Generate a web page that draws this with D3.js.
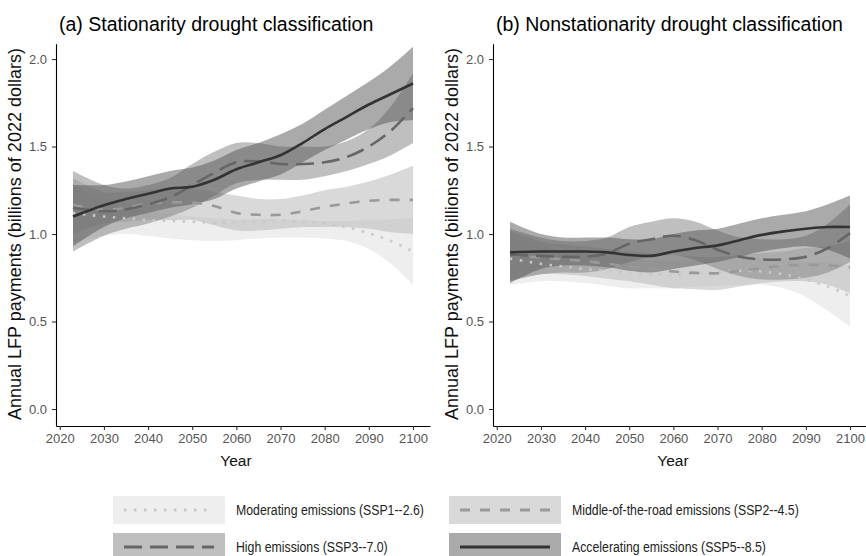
<!DOCTYPE html>
<html>
<head>
<meta charset="utf-8">
<script src="https://cdn.jsdelivr.net/npm/d3@7"></script>
<style>
  body { margin: 0; background: #fff; }
  svg { display: block; font-family: "Liberation Sans", Arial, sans-serif; }
</style>
</head>
<body>
<div id="chart"></div>
<script>
// Years sampled from the smoothed curves
const years = [2023, 2030, 2035, 2040, 2045, 2050, 2055, 2060, 2065, 2070, 2075, 2080, 2085, 2090, 2095, 2100];

const scenarios = ['SSP1', 'SSP2', 'SSP3', 'SSP5'];
const scenarioLabels = [
  'Moderating emissions (SSP1--2.6)',
  'Middle-of-the-road emissions (SSP2--4.5)',
  'High emissions (SSP3--7.0)',
  'Accelerating emissions (SSP5--8.5)'
];

// (a) Stationarity: fitted value, lower and upper band
const statSSP1 = [1.12, 1.10, 1.09, 1.08, 1.075, 1.07, 1.065, 1.065, 1.07, 1.075, 1.07, 1.06, 1.04, 1.005, 0.96, 0.90];
const statSSP1Lo = [0.95, 0.99, 1.00, 0.99, 0.975, 0.965, 0.96, 0.965, 0.975, 0.98, 0.98, 0.975, 0.96, 0.915, 0.83, 0.71];
const statSSP1Hi = [1.28, 1.20, 1.16, 1.13, 1.115, 1.10, 1.09, 1.085, 1.085, 1.085, 1.08, 1.075, 1.075, 1.08, 1.085, 1.09];

const statSSP2 = [1.165, 1.14, 1.15, 1.175, 1.18, 1.18, 1.16, 1.12, 1.11, 1.11, 1.13, 1.155, 1.175, 1.19, 1.195, 1.195];
const statSSP2Lo = [1.00, 1.06, 1.07, 1.08, 1.08, 1.08, 1.05, 1.02, 1.02, 1.03, 1.04, 1.04, 1.04, 1.03, 1.01, 1.00];
const statSSP2Hi = [1.32, 1.24, 1.24, 1.25, 1.26, 1.26, 1.24, 1.22, 1.20, 1.20, 1.22, 1.25, 1.27, 1.30, 1.34, 1.39];

const statSSP3 = [1.15, 1.13, 1.14, 1.17, 1.21, 1.28, 1.35, 1.41, 1.415, 1.40, 1.40, 1.41, 1.44, 1.50, 1.59, 1.72];
const statSSP3Lo = [0.90, 0.99, 1.03, 1.06, 1.10, 1.15, 1.22, 1.29, 1.31, 1.31, 1.31, 1.33, 1.36, 1.40, 1.45, 1.52];
const statSSP3Hi = [1.36, 1.28, 1.26, 1.28, 1.32, 1.40, 1.47, 1.52, 1.52, 1.50, 1.50, 1.50, 1.53, 1.60, 1.73, 1.92];

const statSSP5 = [1.10, 1.165, 1.20, 1.23, 1.26, 1.27, 1.31, 1.37, 1.41, 1.45, 1.52, 1.60, 1.67, 1.74, 1.80, 1.86];
const statSSP5Lo = [0.93, 1.04, 1.09, 1.12, 1.15, 1.17, 1.20, 1.26, 1.30, 1.34, 1.41, 1.48, 1.54, 1.60, 1.64, 1.65];
const statSSP5Hi = [1.28, 1.28, 1.30, 1.33, 1.36, 1.38, 1.42, 1.48, 1.52, 1.57, 1.63, 1.71, 1.79, 1.87, 1.96, 2.07];

// (b) Nonstationarity
const nonSSP1 = [0.86, 0.83, 0.815, 0.80, 0.79, 0.776, 0.77, 0.767, 0.775, 0.785, 0.79, 0.786, 0.77, 0.74, 0.70, 0.645];
const nonSSP1Lo = [0.71, 0.73, 0.73, 0.72, 0.705, 0.69, 0.69, 0.69, 0.70, 0.705, 0.71, 0.71, 0.69, 0.64, 0.56, 0.47];
const nonSSP1Hi = [1.01, 0.93, 0.90, 0.88, 0.87, 0.86, 0.85, 0.845, 0.85, 0.865, 0.87, 0.86, 0.85, 0.84, 0.84, 0.82];

const nonSSP2 = [0.88, 0.865, 0.855, 0.845, 0.83, 0.815, 0.80, 0.786, 0.778, 0.776, 0.79, 0.805, 0.818, 0.824, 0.82, 0.81];
const nonSSP2Lo = [0.74, 0.77, 0.77, 0.76, 0.745, 0.73, 0.71, 0.69, 0.685, 0.68, 0.70, 0.72, 0.73, 0.73, 0.71, 0.66];
const nonSSP2Hi = [1.02, 0.96, 0.94, 0.93, 0.915, 0.90, 0.89, 0.88, 0.87, 0.87, 0.88, 0.89, 0.90, 0.92, 0.93, 0.96];

const nonSSP3 = [0.88, 0.875, 0.87, 0.87, 0.89, 0.945, 0.97, 0.99, 0.965, 0.91, 0.87, 0.855, 0.855, 0.87, 0.92, 1.005];
const nonSSP3Lo = [0.73, 0.77, 0.78, 0.78, 0.80, 0.84, 0.87, 0.88, 0.85, 0.80, 0.76, 0.74, 0.74, 0.75, 0.78, 0.84];
const nonSSP3Hi = [1.03, 0.98, 0.96, 0.96, 0.98, 1.04, 1.07, 1.09, 1.07, 1.02, 0.98, 0.97, 0.97, 0.99, 1.06, 1.17];

const nonSSP5 = [0.895, 0.90, 0.90, 0.90, 0.895, 0.88, 0.875, 0.90, 0.92, 0.935, 0.965, 0.995, 1.015, 1.03, 1.04, 1.04];
const nonSSP5Lo = [0.72, 0.80, 0.82, 0.82, 0.81, 0.79, 0.78, 0.80, 0.82, 0.84, 0.87, 0.90, 0.92, 0.93, 0.91, 0.86];
const nonSSP5Hi = [1.07, 1.00, 0.98, 0.98, 0.98, 0.97, 0.97, 1.00, 1.02, 1.03, 1.06, 1.09, 1.11, 1.13, 1.17, 1.22];

const xTicks = [2020, 2030, 2040, 2050, 2060, 2070, 2080, 2090, 2100];
const yTicks = [0, 0.5, 1, 1.5, 2];

// styles per scenario
const fills = { SSP1: '#dedede', SSP2: '#b4b4b4', SSP3: '#808080', SSP5: '#555555' };
const strokes = { SSP1: '#c8c8c8', SSP2: '#999999', SSP3: '#666666', SSP5: '#333333' };
const dashes = { SSP1: '2.5,7.5', SSP2: '10,10', SSP3: '18,8', SSP5: null };

function makeSeries(fit, lo, hi) {
  return years.map((yr, i) => ({ year: yr, fit: fit[i], lo: lo[i], hi: hi[i] }));
}

const panels = [
  {
    title: '(a) Stationarity drought classification',
    left: 56, right: 430,
    series: {
      SSP1: makeSeries(statSSP1, statSSP1Lo, statSSP1Hi),
      SSP2: makeSeries(statSSP2, statSSP2Lo, statSSP2Hi),
      SSP3: makeSeries(statSSP3, statSSP3Lo, statSSP3Hi),
      SSP5: makeSeries(statSSP5, statSSP5Lo, statSSP5Hi)
    }
  },
  {
    title: '(b) Nonstationarity drought classification',
    left: 493, right: 867,
    series: {
      SSP1: makeSeries(nonSSP1, nonSSP1Lo, nonSSP1Hi),
      SSP2: makeSeries(nonSSP2, nonSSP2Lo, nonSSP2Hi),
      SSP3: makeSeries(nonSSP3, nonSSP3Lo, nonSSP3Hi),
      SSP5: makeSeries(nonSSP5, nonSSP5Lo, nonSSP5Hi)
    }
  }
];

const width = 866, height = 556;
const svg = d3.select('#chart').append('svg')
  .attr('width', width)
  .attr('height', height);

const y = d3.scaleLinear().domain([-0.097, 2.087]).range([426, 43.8]);

panels.forEach(p => {
  const x = d3.scaleLinear().domain([2019.15, 2103.85]).range([p.left, p.right]);
  const g = svg.append('g');

  const area = d3.area()
    .curve(d3.curveCatmullRom.alpha(0.5))
    .x(d => x(d.year))
    .y0(d => y(d.lo))
    .y1(d => y(d.hi));

  const line = d3.line()
    .curve(d3.curveCatmullRom.alpha(0.5))
    .x(d => x(d.year))
    .y(d => y(d.fit));

  // confidence bands
  scenarios.forEach(s => {
    g.append('path')
      .datum(p.series[s])
      .attr('d', area)
      .attr('fill', fills[s])
      .attr('fill-opacity', 0.5);
  });

  // fitted lines
  scenarios.forEach(s => {
    g.append('path')
      .datum(p.series[s])
      .attr('d', line)
      .attr('fill', 'none')
      .attr('stroke', strokes[s])
      .attr('stroke-width', 2.6)
      .attr('stroke-dasharray', dashes[s]);
  });

  // axes
  const xAxis = g.append('g')
    .attr('transform', 'translate(0,426)')
    .call(d3.axisBottom(x).tickValues(xTicks).tickFormat(d3.format('d')).tickSize(4).tickSizeOuter(0).tickPadding(4));
  const yAxis = g.append('g')
    .attr('transform', `translate(${p.left},0)`)
    .call(d3.axisLeft(y).tickValues(yTicks).tickFormat(d3.format('.1f')).tickSize(4).tickSizeOuter(0).tickPadding(5));

  [xAxis, yAxis].forEach(a => {
    a.select('.domain').attr('stroke', '#000').attr('stroke-width', 1.1);
    a.selectAll('.tick line').attr('stroke', '#333').attr('stroke-width', 1.1);
    a.selectAll('.tick text')
      .attr('fill', '#555')
      .style('font-size', '13px')
      .style('font-family', '"Liberation Sans", Arial, sans-serif');
  });

  // title
  g.append('text')
    .attr('x', p.left + 3)
    .attr('y', 31)
    .attr('fill', '#000')
    .style('font-size', '19.5px')
    .text(p.title);

  // axis titles
  g.append('text')
    .attr('x', (p.left + p.right) / 2 - 7)
    .attr('y', 466)
    .attr('text-anchor', 'middle')
    .attr('fill', '#111')
    .style('font-size', '15.5px')
    .text('Year');

  g.append('text')
    .attr('transform', `translate(${p.left - 35},${234}) rotate(-90)`)
    .attr('text-anchor', 'middle')
    .attr('fill', '#111')
    .style('font-size', '18px')
    .text('Annual LFP payments (billions of 2022 dollars)');
});

// legend
const legendPos = [
  { x: 113, y: 496 }, { x: 449, y: 496 },
  { x: 113, y: 533 }, { x: 449, y: 533 }
];
const keyW = 112, keyH = 28;

scenarios.forEach((s, i) => {
  const pos = legendPos[i];
  const lg = svg.append('g').attr('transform', `translate(${pos.x},${pos.y})`);
  lg.append('rect')
    .attr('width', keyW)
    .attr('height', keyH)
    .attr('fill', fills[s])
    .attr('fill-opacity', 0.5);
  lg.append('line')
    .attr('x1', 11).attr('x2', keyW - 11)
    .attr('y1', keyH / 2).attr('y2', keyH / 2)
    .attr('stroke', strokes[s])
    .attr('stroke-width', 3)
    .attr('stroke-dasharray', dashes[s]);
  // the legend text in the original is visibly condensed
  lg.append('text')
    .attr('transform', `translate(${keyW + 11},${keyH / 2 + 5}) scale(0.82,1)`)
    .attr('fill', '#222')
    .style('font-size', '15px')
    .text(scenarioLabels[i]);
});
</script>
</body>
</html>
